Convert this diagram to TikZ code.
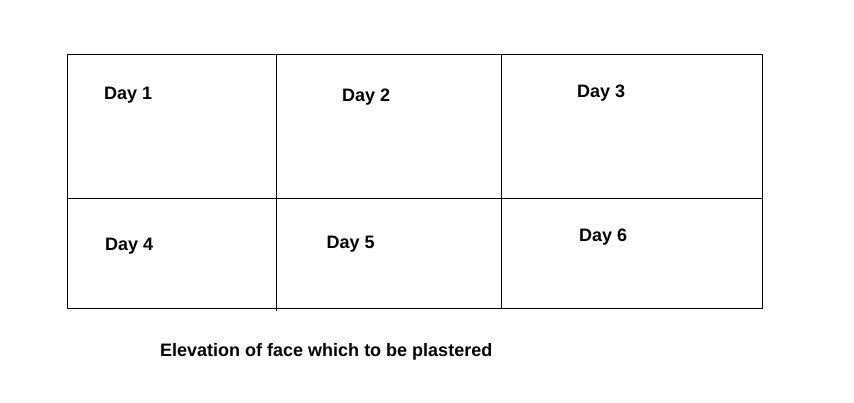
\documentclass[tikz,border=0pt]{standalone}
\usepackage{fontspec}
\setmainfont{Liberation Sans}
\usepackage{tikz}
\usetikzlibrary{positioning}

\begin{document}
\begin{tikzpicture}[
    x=1pt, y=-1pt,
    % day labels inside the cells
    day/.style={font=\fontsize{18}{20}\selectfont\bfseries, inner sep=0pt, anchor=base west},
    caption/.style={font=\fontsize{18}{20}\selectfont\bfseries, inner sep=0pt, anchor=base west},
    grid/.style={draw=black, line width=1pt}
]
\useasboundingbox (0,0) rectangle (854,403);

% outer face and partitions
\draw[grid] (67,54.5) rectangle (762,309);
\draw[grid] (67,199) -- (762,199);
\draw[grid] (276.5,54.5) -- (276.5,311);
\draw[grid] (501,54.5) -- (501,309);

% first row
\node[day] (d1) at (104,100) {Day 1};
\node[day] (d2) at (342,102) {Day 2};
\node[day] (d3) at (577,97.5) {Day 3};

% second row
\node[day] (d4) at (105,251) {Day 4};
\node[day] (d5) at (326.5,249) {Day 5};
\node[day] (d6) at (579,242) {Day 6};

% caption below
\node[caption] (cap) at (160,356) {Elevation of face which to be plastered};

\end{tikzpicture}
\end{document}
